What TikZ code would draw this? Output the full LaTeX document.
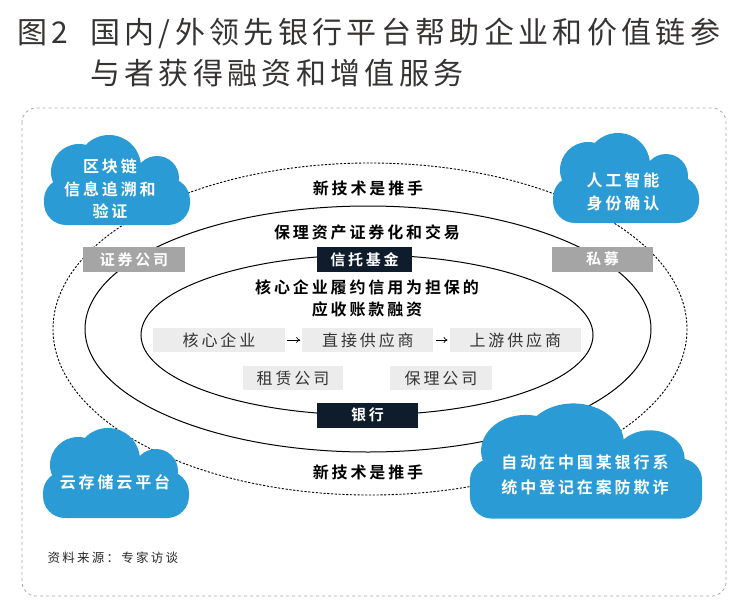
\documentclass[tikz,border=0pt]{standalone}
\usepackage{fontspec}
\setmainfont{Noto Sans CJK SC}
\newfontfamily\cjk{Noto Sans CJK SC}[BoldFont={Noto Sans CJK SC Bold},LetterSpace=18]
\newfontfamily\cjktitle{Noto Sans CJK SC}[LetterSpace=14.5]
\usetikzlibrary{arrows.meta,positioning}

\definecolor{cloudblue}{HTML}{2A9BD5}
\definecolor{boxgray}{HTML}{A5A5A5}
\definecolor{boxnavy}{HTML}{0E1C2C}
\definecolor{boxlight}{HTML}{ECECEC}
\definecolor{titlegray}{HTML}{363433}
\definecolor{framegray}{HTML}{A8A8A8}

% cloud drawn around its centre, about 146 x 90
\tikzset{
  puffcloud/.pic={
    \fill[cloudblue, rounded corners=22pt] (-73,-2) rectangle (73,45);
    \fill[cloudblue] (-38,-8) circle [radius=28] (-8,-13) circle [radius=32] (40,-2) circle [radius=22];
  }
}

\begin{document}
\begin{tikzpicture}[
  x=1pt, y=-1pt,
  font=\cjk\fontsize{16}{22}\selectfont,
  title/.style={font=\cjktitle\fontsize{30}{32}\selectfont, text=titlegray, inner sep=0pt, anchor=west},
  ring/.style={line width=1pt},
  dashring/.style={line width=0.9pt, dash pattern=on 2.2pt off 1.6pt},
  cloudtext/.style={font=\cjk\bfseries\fontsize{16}{22.5}\selectfont, text=white, align=center},
  tag/.style={minimum height=25pt, inner sep=0pt, font=\cjk\bfseries\fontsize{15}{15}\selectfont},
  graytag/.style={tag, fill=boxgray, text=white},
  navytag/.style={tag, fill=boxnavy, text=white},
  party/.style={minimum height=24pt, inner sep=0pt, fill=boxlight, text=black!80},
  heading/.style={font=\cjk\bfseries\fontsize{16}{22}\selectfont, align=center},
  arrow/.style={-{To[length=4pt,width=6pt]}, line width=0.7pt, shorten <=2pt, shorten >=2pt}
]
\useasboundingbox (0,0) rectangle (748,611);

% title
\node[title] (fig) at (17,33) {图2};
\node[title] (title1) at (90,33) {国内/外领先银行平台帮助企业和价值链参};
\node[title] (title2) at ([yshift=-40pt]title1.west) {与者获得融资和增值服务};

% frame and rings
\draw[framegray, dashed, line width=0.8pt, rounded corners=14pt] (22,108) rectangle (726,596);
\draw[dashring] (370,329) ellipse [x radius=317, y radius=166];
\draw[ring] (368,329) ellipse [x radius=283, y radius=123];
\draw[ring] (367,335) ellipse [x radius=226, y radius=80];

% clouds
\pic at (117,180) {puffcloud};
\node[cloudtext] (chain) at (110,189) {区块链\\信息追溯和\\验证};
\pic at (626,178) {puffcloud};
\node[cloudtext] (ai) at (623,192) {人工智能\\身份确认};
\pic at (116,473) {puffcloud};
\node[cloudtext] (store) at (115,482) {云存储云平台};
\pic[xscale=1.59, yscale=1.28] at (586,461) {puffcloud};
\node[cloudtext, font=\cjk\bfseries\fontsize{16}{25}\selectfont] (fraud) at (585,475) {自动在中国某银行系\\统中登记在案防欺诈};

% ring labels
\node[heading] (techtop) at (368,188) {新技术是推手};
\node[heading] (abs) at (367,232) {保理资产证券化和交易};
\node[heading] (recv) at (367,298) {核心企业履约信用为担保的\\应收账款融资};
\node[heading] (techbot) at (368,472) {新技术是推手};

% institutions
\node[graytag, minimum width=102pt] (sec) at (134,259.5) {证券公司};
\node[navytag, minimum width=95pt] (trust) at (364.5,259.5) {信托基金};
\node[graytag, minimum width=101pt] (pe) at (602.5,259) {私募};
\node[navytag, minimum width=101pt] (bank) at (367.5,415) {银行};

% chain parties
\node[party, minimum width=132pt] (core) at (219,340) {核心企业};
\node[party, minimum width=131pt, right=17pt of core] (direct) {直接供应商};
\node[party, minimum width=131pt, right=16pt of direct] (upstream) {上游供应商};
\node[party, minimum width=100pt] (lease) at (293,378) {租赁公司};
\node[party, minimum width=102pt] (factor) at (441,378) {保理公司};

\draw[arrow] (core) -- (direct);
\draw[arrow] (direct) -- (upstream);

\node[anchor=west, font=\cjk\fontsize{12.5}{13}\selectfont, text=black!85] (source) at (44,558) {资料来源：专家访谈};

\end{tikzpicture}
\end{document}
